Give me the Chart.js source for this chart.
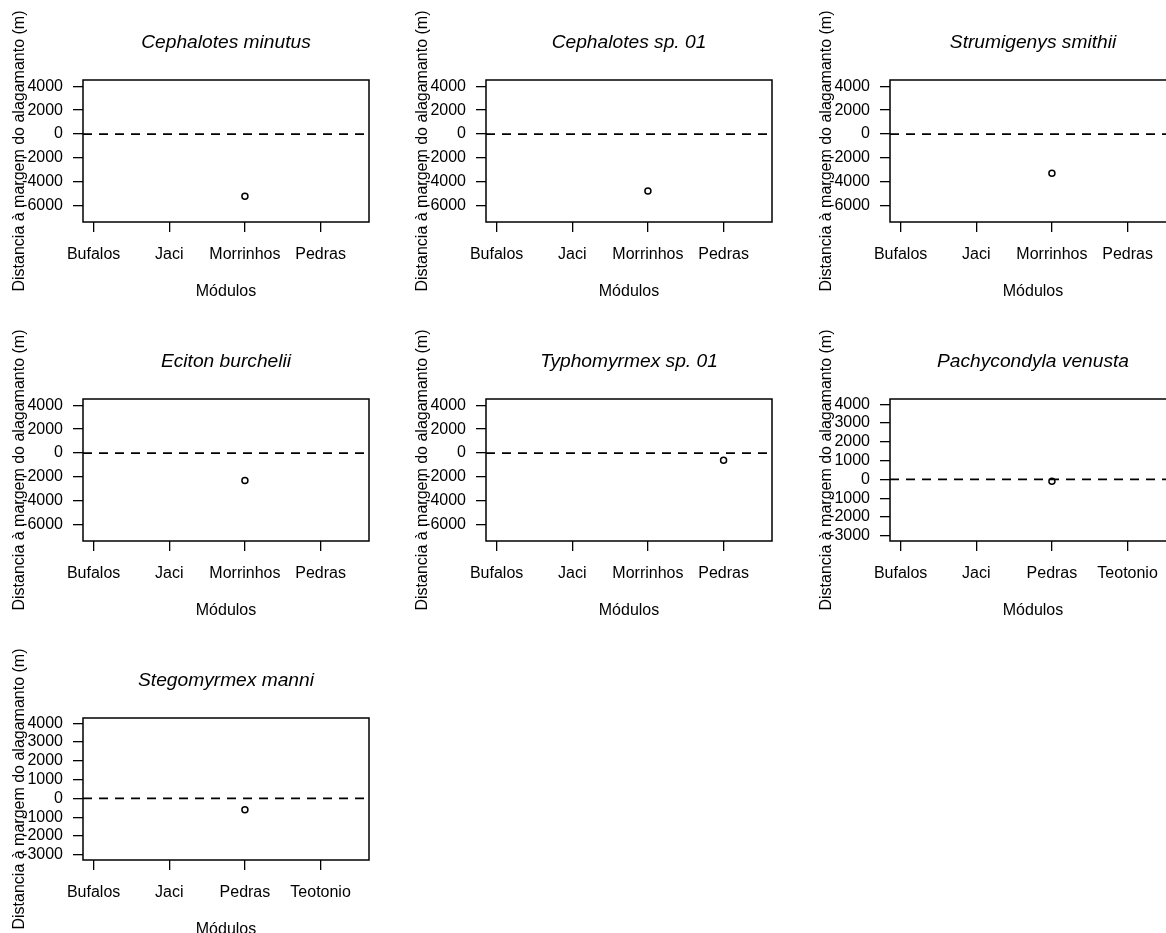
<!DOCTYPE html>
<html>
<head>
<meta charset="utf-8">
<script src="https://cdn.jsdelivr.net/npm/chart.js@4"></script>
<style>
    html, body { margin: 0; padding: 0; background: #fff; overflow: hidden; }
    #grid { position: relative; width: 1166px; height: 933px; overflow: hidden; }
    #grid canvas { position: absolute; }
</style>
</head>
<body>
<div id="grid"></div>
<script>
const species = [
    "Cephalotes minutus", "Cephalotes sp. 01", "Strumigenys smithii",
    "Eciton burchelii", "Typhomyrmex sp. 01", "Pachycondyla venusta",
    "Stegomyrmex manni"
];
const modulesA = ["Bufalos", "Jaci", "Morrinhos", "Pedras"];
const modulesB = ["Bufalos", "Jaci", "Pedras", "Teotonio"];
const panelModules = [modulesA, modulesA, modulesA, modulesA, modulesA, modulesB, modulesB];
const pointModule = ["Morrinhos", "Morrinhos", "Morrinhos", "Morrinhos", "Pedras", "Pedras", "Pedras"];
const distances = [-5200, -4750, -3270, -2300, -600, -100, -600];

const ticksWide = [4000, 2000, 0, -2000, -4000, -6000];
const ticksNarrow = [4000, 3000, 2000, 1000, 0, -1000, -2000, -3000];
const rangeWide = [-7350, 4520];
const rangeNarrow = [-3280, 4280];
const panelNarrow = [false, false, false, false, false, true, true];
const xRange = [0.86, 4.64];
const refLine = 0;

const FONT = "'Liberation Sans', Arial, Helvetica, sans-serif";
const W = 403, H = 319;

// box round the plot region and the title centred over it, like R's box() + main
const boxPlugin = {
    id: "box",
    afterDraw(chart, args, opts) {
        const a = chart.chartArea, ctx = chart.ctx;
        ctx.save();
        ctx.strokeStyle = "#000";
        ctx.lineWidth = 1.5;
        ctx.strokeRect(a.left, a.top, a.right - a.left, a.bottom - a.top);
        ctx.fillStyle = "#000";
        ctx.font = "italic 19.2px " + FONT;
        ctx.textAlign = "center";
        ctx.textBaseline = "middle";
        ctx.fillText(opts.text, (a.left + a.right) / 2, 43);
        ctx.restore();
    }
};

const grid = document.getElementById("grid");

species.forEach((name, i) => {
    const canvas = document.createElement("canvas");
    canvas.width = W;
    canvas.height = H;
    canvas.style.left = Math.round((i % 3) * 403.3) + "px";
    canvas.style.top = Math.floor(i / 3) * H + "px";
    grid.appendChild(canvas);

    const mods = panelModules[i];
    const yTicks = panelNarrow[i] ? ticksNarrow : ticksWide;
    const yRange = panelNarrow[i] ? rangeNarrow : rangeWide;
    const px = mods.indexOf(pointModule[i]) + 1;

    new Chart(canvas.getContext("2d"), {
        type: "scatter",
        data: {
            datasets: [
                {
                    data: [{ x: px, y: distances[i] }],
                    pointStyle: "circle",
                    pointRadius: 3,
                    pointBorderWidth: 1.5,
                    pointBorderColor: "#000",
                    pointBackgroundColor: "rgba(0,0,0,0)"
                },
                {
                    data: [{ x: xRange[0], y: refLine }, { x: xRange[1], y: refLine }],
                    showLine: true,
                    borderColor: "#000",
                    borderWidth: 1.7,
                    borderDash: [9, 7],
                    pointRadius: 0
                }
            ]
        },
        options: {
            responsive: false,
            animation: false,
            devicePixelRatio: 1,
            layout: { padding: { left: 0, right: 34, top: 80, bottom: 0 } },
            plugins: {
                legend: { display: false },
                tooltip: { enabled: false },
                title: { display: false },
                box: { text: name }
            },
            scales: {
                x: {
                    type: "linear",
                    min: xRange[0],
                    max: xRange[1],
                    afterBuildTicks: s => { s.ticks = mods.map((m, k) => ({ value: k + 1 })); },
                    afterFit: s => { s.height = 97; },
                    ticks: {
                        autoSkip: false,
                        maxRotation: 0,
                        color: "#000",
                        padding: 13,
                        font: { family: FONT, size: 16 },
                        callback: v => mods[v - 1]
                    },
                    grid: { drawOnChartArea: false, drawTicks: true, tickLength: 10, color: "#000", lineWidth: 1.3 },
                    border: { display: false },
                    title: {
                        display: true,
                        text: "Módulos",
                        color: "#000",
                        font: { family: FONT, size: 16, lineHeight: 1.2 },
                        padding: { top: 0, bottom: 17.4 }
                    }
                },
                y: {
                    type: "linear",
                    min: yRange[0],
                    max: yRange[1],
                    afterBuildTicks: s => { s.ticks = yTicks.map(v => ({ value: v })); },
                    afterFit: s => { s.width = 83; },
                    ticks: {
                        autoSkip: false,
                        color: "#000",
                        padding: 10,
                        font: { family: FONT, size: 16 },
                        callback: v => String(v)
                    },
                    grid: { drawOnChartArea: false, drawTicks: true, tickLength: 10, color: "#000", lineWidth: 1.3 },
                    border: { display: false },
                    title: {
                        display: true,
                        text: "Distancia à margem do alagamanto (m)",
                        color: "#000",
                        font: { family: FONT, size: 16, lineHeight: 1.2 },
                        padding: { top: 10.4, bottom: 0 }
                    }
                }
            }
        },
        plugins: [boxPlugin]
    });
});
</script>
</body>
</html>
